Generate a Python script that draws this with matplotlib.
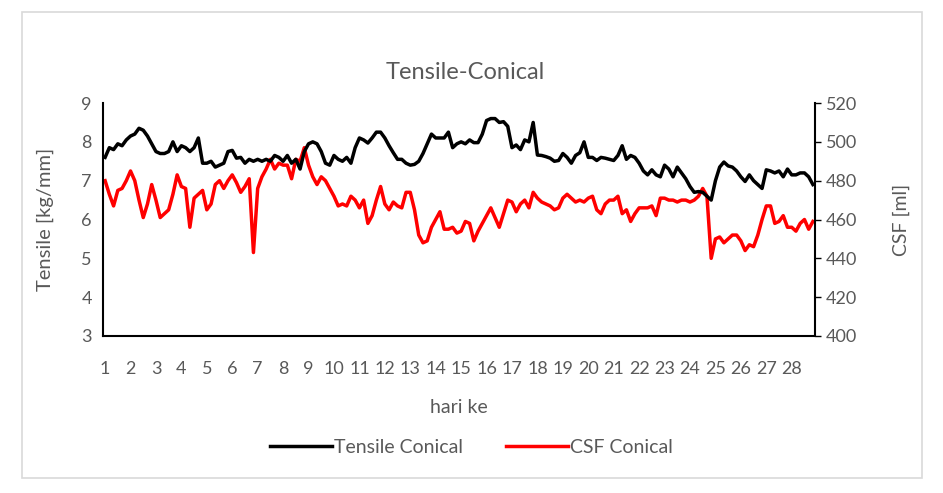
import numpy as np
import matplotlib.pyplot as plt
from matplotlib.patches import Rectangle

# day labels, 6 readings per day
days = [str(d) for d in range(1, 29)]
per_day = 6

tensile = [
    7.6, 7.85, 7.8, 7.95, 7.9, 8.05, 8.15, 8.2, 8.35, 8.3, 8.15, 7.95, 7.75, 7.7,
    7.7, 7.75, 8.0, 7.75, 7.9, 7.85, 7.75, 7.85, 8.1, 7.45, 7.45, 7.5, 7.35, 7.4,
    7.45, 7.75, 7.78, 7.58, 7.6, 7.45, 7.55, 7.5, 7.55, 7.5, 7.55, 7.5, 7.65, 7.6,
    7.5, 7.65, 7.45, 7.55, 7.3, 7.75, 7.95, 8.0, 7.95, 7.75, 7.45, 7.4, 7.65, 7.55,
    7.5, 7.6, 7.45, 7.85, 8.1, 8.05, 7.97, 8.1, 8.25, 8.25, 8.1, 7.9, 7.72, 7.55,
    7.55, 7.45, 7.4, 7.42, 7.5, 7.7, 7.95, 8.2, 8.1, 8.1, 8.1, 8.25, 7.85, 7.95,
    8.0, 7.95, 8.05, 7.98, 7.98, 8.2, 8.55, 8.6, 8.6, 8.5, 8.52, 8.4, 7.85, 7.92,
    7.8, 8.05, 8.0, 8.5, 7.66, 7.65, 7.62, 7.58, 7.5, 7.52, 7.7, 7.6, 7.45, 7.65,
    7.72, 8.0, 7.6, 7.6, 7.52, 7.6, 7.58, 7.55, 7.52, 7.65, 7.9, 7.55, 7.65, 7.6,
    7.45, 7.25, 7.15, 7.28, 7.15, 7.1, 7.4, 7.3, 7.1, 7.35, 7.2, 7.05, 6.85, 6.7,
    6.72, 6.7, 6.6, 6.5, 7.0, 7.35, 7.48, 7.38, 7.35, 7.25, 7.1, 6.98, 7.15, 7.0,
    6.9, 6.8, 7.28, 7.25, 7.2, 7.25, 7.1, 7.3, 7.15, 7.15, 7.2, 7.2, 7.1, 6.9,
]

csf = [
    480, 473, 467, 475, 476, 480, 485, 480, 470, 461, 468, 478, 470, 461,
    463, 465, 473, 483, 477, 476, 456, 471, 473, 475, 465, 468, 478, 480,
    476, 480, 483, 479, 474, 477, 481, 443, 476, 482, 486, 491, 486, 489,
    488, 488, 481, 491, 490, 497, 488, 482, 478, 482, 480, 476, 472, 467,
    468, 467, 472, 470, 466, 470, 458, 462, 470, 477, 468, 465, 469, 467,
    466, 474, 474, 465, 452, 448, 449, 456, 460, 464, 455, 455, 456, 453,
    454, 459, 458, 449, 454, 458, 462, 466, 461, 456, 463, 470, 469, 464,
    468, 470, 466, 474, 471, 469, 468, 467, 465, 466, 471, 473, 471, 469,
    470, 469, 471, 472, 465, 463, 468, 470, 470, 472, 463, 465, 459, 463,
    466, 466, 466, 467, 462, 471, 471, 470, 470, 469, 470, 470, 469, 470,
    472, 476, 472, 440, 450, 451, 448, 450, 452, 452, 449, 444, 447, 446,
    452, 460, 467, 467, 458, 459, 462, 456, 456, 454, 458, 460, 455, 459,
]

plt.rcParams['font.family'] = ['Lato', 'DejaVu Sans']
grey = '#595959'

fig = plt.figure(figsize=(9.43, 4.93), dpi=100)
fig.patches.append(Rectangle((0.023, 0.03), 0.955, 0.945, transform=fig.transFigure,
                             fill=False, edgecolor='#D9D9D9', linewidth=1.2))

ax = fig.add_axes([0.1092, 0.3185, 0.7551, 0.4725])
ax2 = ax.twinx()

x = np.arange(len(tensile))
l1, = ax.plot(x, tensile, color='black', linewidth=2.5, label='Tensile Conical')
l2, = ax2.plot(x, csf, color='#FF0000', linewidth=2.5, label='CSF Conical')
ax.set_zorder(ax2.get_zorder() + 1)
ax.patch.set_visible(False)

ax.set_xlim(-0.5, len(tensile) - 0.5)
ax.set_ylim(3, 9)
ax2.set_ylim(400, 520)
ax.set_yticks(np.arange(3, 10, 1))
ax2.set_yticks(np.arange(400, 521, 20))
ax.set_xticks(np.arange(len(days)) * per_day)
ax.set_xticklabels(days)

for a in (ax, ax2):
    for s in a.spines.values():
        s.set_visible(False)
ax.spines['left'].set_visible(True)
ax.spines['bottom'].set_visible(True)
ax2.spines['right'].set_visible(True)
for s in (ax.spines['left'], ax.spines['bottom'], ax2.spines['right']):
    s.set_linewidth(1.5)
    s.set_color('black')

ax.tick_params(axis='x', length=0, labelsize=13, labelcolor=grey, pad=18)
ax.tick_params(axis='y', length=0, labelsize=13, labelcolor=grey, pad=8)
ax2.tick_params(axis='y', length=4, width=1, labelsize=13, labelcolor=grey, pad=4)

ax.set_ylabel('Tensile [kg/mm]', fontsize=14.5, color=grey, labelpad=20)
ax2.set_ylabel('CSF [ml]', fontsize=14, color=grey, labelpad=25)
ax.set_xlabel('hari ke', fontsize=14, color=grey, labelpad=16)
fig.text(0.493, 0.853, 'Tensile-Conical', fontsize=17, color=grey, ha='center', va='center')

fig.legend([l1, l2], ['Tensile Conical', 'CSF Conical'], loc='center', bbox_to_anchor=(0.5, 0.093),
           ncol=2, frameon=False, fontsize=14, labelcolor=grey, handlelength=3.2,
           handletextpad=0.1, columnspacing=2.2)

fig.savefig('out.png', dpi=100)
